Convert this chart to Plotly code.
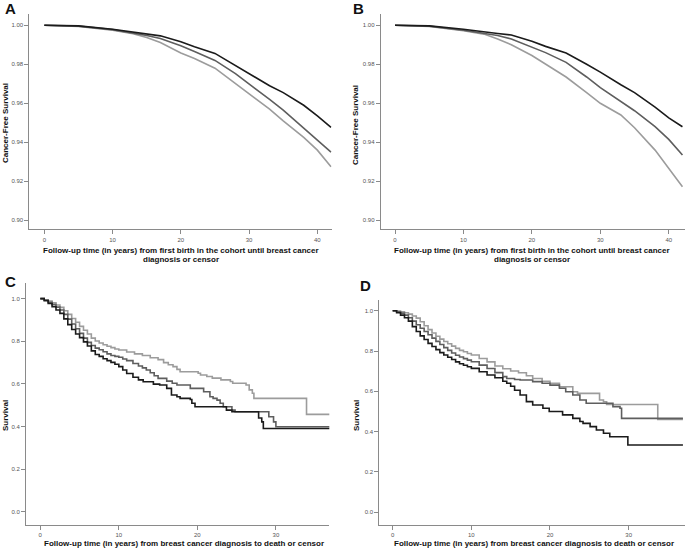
import plotly.graph_objects as go

W, H = 685, 550

# ---------------- Panel A (cancer-free survival, first birth) ----------------
a_t = [0, 5, 10, 13, 15, 17, 20, 22, 25, 28, 30, 33, 35, 38, 40, 42]
a_black = [1.0, 0.9997, 0.998, 0.9965, 0.9955, 0.9946, 0.9916, 0.989, 0.9856, 0.9795, 0.9754, 0.969, 0.9655, 0.959, 0.9535, 0.9477]
a_dark = [1.0, 0.9996, 0.9978, 0.9962, 0.9948, 0.9932, 0.9895, 0.9866, 0.982, 0.9752, 0.970, 0.962, 0.9565, 0.9475, 0.9415, 0.9350]
a_light = [1.0, 0.9994, 0.9975, 0.9957, 0.9937, 0.9912, 0.9858, 0.983, 0.978, 0.970, 0.965, 0.957, 0.951, 0.9425, 0.936, 0.9275]

# ---------------- Panel B ----------------
b_t = [0, 5, 10, 13, 15, 17, 20, 22, 25, 28, 30, 33, 35, 38, 40, 42]
b_black = [1.0, 0.9997, 0.998, 0.9969, 0.9958, 0.995, 0.9918, 0.9892, 0.9858, 0.980, 0.976, 0.9695, 0.9655, 0.958, 0.9525, 0.948]
b_dark = [1.0, 0.9996, 0.9975, 0.996, 0.9948, 0.993, 0.989, 0.986, 0.981, 0.9735, 0.968, 0.961, 0.9562, 0.948, 0.9415, 0.9335]
b_light = [1.0, 0.9994, 0.9972, 0.9955, 0.993, 0.990, 0.9845, 0.980, 0.9735, 0.9655, 0.960, 0.954, 0.9475, 0.936, 0.9265, 0.9172]

# ---------------- Panel C (survival after diagnosis) ----------------
c_light_t = [0, 0.5, 1, 1.5, 2, 2.5, 3, 3.5, 4, 4.5, 5, 5.5, 6, 6.5, 7, 7.5, 8, 8.5, 9, 9.5, 10, 11, 12, 13, 14, 15,
             15.7, 16.3, 16.9, 17.4, 17.8, 20.1, 20.4, 21.2, 21.9, 23, 24.2, 24.5, 26.2, 26.6, 27.0, 27.2, 33.9, 36.9]
c_light_s = [1.0, 0.995, 0.989, 0.98, 0.97, 0.959, 0.943, 0.926, 0.907, 0.889, 0.87, 0.852, 0.834, 0.815, 0.801, 0.792,
             0.784, 0.777, 0.77, 0.764, 0.759, 0.75, 0.741, 0.733, 0.723, 0.714, 0.70, 0.69, 0.681, 0.668, 0.657, 0.65,
             0.642, 0.635, 0.627, 0.619, 0.611, 0.603, 0.595, 0.572, 0.556, 0.532, 0.457, 0.457]

c_dark_t = [0, 0.5, 1, 1.5, 2, 2.5, 3, 3.5, 4, 4.5, 5, 5.5, 6, 6.5, 7, 7.5, 8, 8.5, 9, 9.5, 10, 10.5, 11, 11.8, 12.5,
            13, 13.5, 14, 14.5, 15, 16.1, 16.8, 17.4, 19.1, 20.8, 21.6, 22.0, 22.5, 22.9, 23.3, 24.4, 24.8, 29.1, 29.7,
            30.0, 36.9]
c_dark_s = [1.0, 0.993, 0.983, 0.972, 0.96, 0.947, 0.926, 0.904, 0.881, 0.859, 0.837, 0.815, 0.795, 0.78, 0.768, 0.76,
            0.751, 0.741, 0.733, 0.729, 0.725, 0.717, 0.709, 0.696, 0.684, 0.675, 0.665, 0.652, 0.638, 0.626, 0.613,
            0.603, 0.595, 0.579, 0.563, 0.54, 0.532, 0.524, 0.509, 0.493, 0.477, 0.469, 0.446, 0.422, 0.399, 0.399]

c_black_t = [0, 0.5, 1, 1.5, 2, 2.5, 3, 3.5, 4, 4.5, 5, 5.5, 6, 6.5, 7, 7.5, 8, 8.5, 9, 9.5, 10, 10.5, 11, 11.8, 12.5,
             13.1, 14.4, 15.2, 16.1, 16.7, 17.4, 17.8, 19.1, 19.3, 19.7, 23.3, 23.7, 24.4, 27.8, 28.2, 28.4, 36.9]
c_black_s = [1.0, 0.99, 0.977, 0.962, 0.947, 0.931, 0.905, 0.878, 0.855, 0.834, 0.817, 0.797, 0.778, 0.755, 0.738,
             0.729, 0.718, 0.709, 0.701, 0.692, 0.681, 0.665, 0.649, 0.631, 0.619, 0.61, 0.599, 0.595, 0.579, 0.548,
             0.54, 0.532, 0.527, 0.509, 0.493, 0.493, 0.477, 0.469, 0.44, 0.422, 0.391, 0.391]

# ---------------- Panel D ----------------
d_light_t = [0, 0.5, 1, 1.5, 2, 2.5, 3, 3.5, 4, 4.5, 5, 5.5, 6, 6.5, 7, 7.5, 8, 8.5, 9, 9.5, 10, 11, 12, 13, 14, 15,
             16, 17, 17.8, 19, 20, 21.2, 22.9, 23.5, 26.3, 26.8, 27.2, 33.7, 36.9]
d_light_s = [1.0, 0.998, 0.995, 0.99, 0.983, 0.974, 0.963, 0.945, 0.925, 0.906, 0.889, 0.873, 0.859, 0.847, 0.836,
             0.824, 0.813, 0.803, 0.796, 0.788, 0.78, 0.763, 0.746, 0.726, 0.712, 0.701, 0.692, 0.677, 0.664, 0.65,
             0.64, 0.623, 0.598, 0.59, 0.557, 0.548, 0.535, 0.461, 0.461]

d_dark_t = [0, 0.5, 1, 1.5, 2, 2.5, 3, 3.5, 4, 4.5, 5, 5.5, 6, 6.5, 7, 7.5, 8, 8.5, 9, 9.5, 10, 11, 12, 13, 14, 14.5,
            15.5, 16.2, 17.8, 19, 20, 21.2, 22, 22.9, 23.8, 24.6, 28.0, 28.9, 29.1, 36.9]
d_dark_s = [1.0, 0.995, 0.988, 0.978, 0.965, 0.948, 0.93, 0.913, 0.897, 0.881, 0.864, 0.848, 0.832, 0.817, 0.803, 0.79,
            0.779, 0.77, 0.762, 0.755, 0.747, 0.73, 0.713, 0.693, 0.673, 0.664, 0.659, 0.656, 0.648, 0.64, 0.631,
            0.615, 0.598, 0.582, 0.557, 0.541, 0.524, 0.516, 0.466, 0.466]

d_black_t = [0, 0.5, 1, 1.5, 2, 2.5, 3, 3.5, 4, 4.5, 5, 5.5, 6, 6.5, 7, 7.5, 8, 8.5, 9, 9.5, 10, 11, 12, 13, 14, 14.5,
             15, 15.5, 16.2, 17, 17.8, 19.1, 19.9, 21.6, 22.9, 23.8, 24.2, 25.1, 25.9, 26.8, 27.6, 29.9, 36.9]
d_black_s = [1.0, 0.99, 0.978, 0.965, 0.948, 0.921, 0.897, 0.875, 0.857, 0.838, 0.822, 0.807, 0.792, 0.78, 0.769,
             0.758, 0.746, 0.737, 0.729, 0.722, 0.714, 0.697, 0.681, 0.667, 0.65, 0.64, 0.625, 0.605, 0.582, 0.549,
             0.532, 0.516, 0.5, 0.483, 0.466, 0.45, 0.441, 0.425, 0.408, 0.392, 0.375, 0.334, 0.334]

x_title_ab_1 = "Follow-up time (in years) from first birth in the cohort until breast cancer"
x_title_ab_2 = "diagnosis or censor"
x_title_cd = "Follow-up time (in years) from breast cancer diagnosis to death or censor"
y_title_ab = "Cancer-Free Survival"
y_title_cd = "Survival"
panel_letters = ["A", "B", "C", "D"]

BLACK = "#1b1b1b"
DARK = "#5e5e5e"
LIGHT = "#9c9c9c"
FONT = "Arial, Liberation Sans, sans-serif"

fig = go.Figure()


def px_x(a, b):
    return [a / W, b / W]


def px_y(top, bottom):
    return [1 - bottom / H, 1 - top / H]


def add(x, y, color, ax, shape):
    fig.add_trace(go.Scatter(x=x, y=y, mode="lines", line=dict(color=color, width=1.6, shape=shape),
                             xaxis="x" + ax, yaxis="y" + ax, showlegend=False, hoverinfo="skip"))


add(a_t, a_light, LIGHT, "", "linear")
add(a_t, a_dark, DARK, "", "linear")
add(a_t, a_black, BLACK, "", "linear")
add(b_t, b_light, LIGHT, "2", "linear")
add(b_t, b_dark, DARK, "2", "linear")
add(b_t, b_black, BLACK, "2", "linear")
add(c_light_t, c_light_s, LIGHT, "3", "hv")
add(c_dark_t, c_dark_s, DARK, "3", "hv")
add(c_black_t, c_black_s, BLACK, "3", "hv")
add(d_light_t, d_light_s, LIGHT, "4", "hv")
add(d_dark_t, d_dark_s, DARK, "4", "hv")
add(d_black_t, d_black_s, BLACK, "4", "hv")

axis_common = dict(showline=True, linecolor="#8a8a8a", linewidth=1, showgrid=False, zeroline=False,
                   ticks="outside", ticklen=4, tickcolor="#8a8a8a", tickwidth=1,
                   tickfont=dict(size=6, color="#555555", family=FONT), fixedrange=True)

layout = dict(
    width=W, height=H, margin=dict(l=0, r=0, t=0, b=0),
    paper_bgcolor="white", plot_bgcolor="white", showlegend=False,
    xaxis=dict(domain=px_x(29.3, 331.7), range=[-2.2, 42.1], dtick=10, anchor="y", **axis_common),
    yaxis=dict(domain=px_y(14, 229.3), range=[0.8954, 1.0058], dtick=0.02, tickformat=".2f", anchor="x", **axis_common),
    xaxis2=dict(domain=px_x(380.7, 684.5), range=[-2.09, 42.3], dtick=10, anchor="y2", **axis_common),
    yaxis2=dict(domain=px_y(14, 229.3), range=[0.8954, 1.0058], dtick=0.02, tickformat=".2f", anchor="x2", **axis_common),
    xaxis3=dict(domain=px_x(26, 329.3), range=[-1.82, 36.8], dtick=10, anchor="y3", **axis_common),
    yaxis3=dict(domain=px_y(283.3, 525), range=[-0.062, 1.072], dtick=0.2, tickformat=".1f", anchor="x3", **axis_common),
    xaxis4=dict(domain=px_x(379.3, 684.5), range=[-1.70, 37.1], dtick=10, anchor="y4", **axis_common),
    yaxis4=dict(domain=px_y(300, 525), range=[-0.063, 1.053], dtick=0.2, tickformat=".1f", anchor="x4", **axis_common),
)
fig.update_layout(**layout)


def note(text, cx, cy, size, angle=0, bold=True):
    fig.add_annotation(text=("<b>%s</b>" % text) if bold else text, x=cx / W, y=1 - cy / H,
                       xref="paper", yref="paper", xanchor="center", yanchor="middle",
                       showarrow=False, textangle=angle,
                       font=dict(size=size, color="#111111", family=FONT))


# panel letters
for letter, (cx, cy) in zip(panel_letters, [(10, 9), (358, 8.5), (10, 281.5), (365, 285)]):
    note(letter, cx, cy, 15)

# axis titles
note(x_title_ab_1, 181, 250.5, 8)
note(x_title_ab_2, 181, 259, 8)
note(x_title_ab_1, 532, 250.5, 8)
note(x_title_ab_2, 532, 259, 8)
note(x_title_cd, 184, 543.5, 8)
note(x_title_cd, 534, 543.5, 8)
note(y_title_ab, 5, 123, 8, angle=-90)
note(y_title_ab, 355, 125, 8, angle=-90)
note(y_title_cd, 5, 416, 8, angle=-90)
note(y_title_cd, 356, 416, 8, angle=-90)

fig.write_html("out.html", config={"displayModeBar": False, "staticPlot": True},
               post_script="document.body.style.margin='0px';")
